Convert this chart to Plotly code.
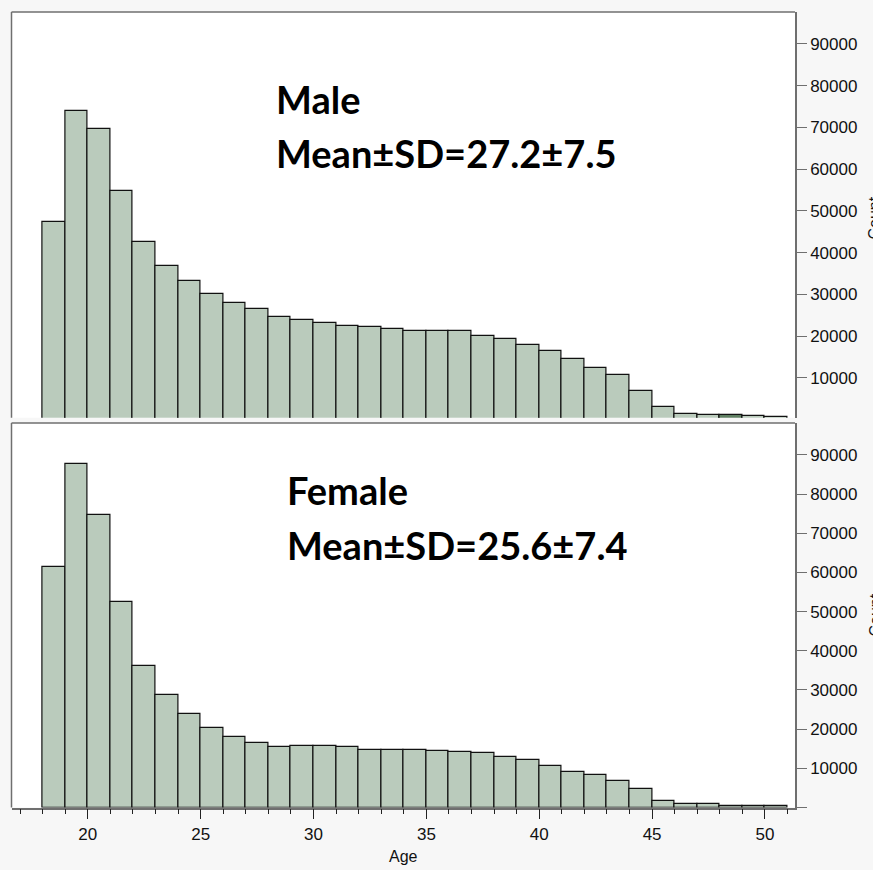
import plotly.graph_objects as go

# ---- data ----
age_bins = list(range(18, 51))  # left edges of 1-year bins (18..50)
male_counts = [47400, 73900, 69600, 54700, 42600, 36700, 33200, 30000, 28000, 26400,
               24500, 24000, 23100, 22500, 22100, 21700, 21300, 21300, 21300, 20100,
               19300, 17900, 16400, 14500, 12400, 10600, 6900, 3000, 1400, 1100,
               1100, 1000, 600]
female_counts = [61500, 87800, 74600, 52400, 36200, 28600, 23900, 20300, 17900, 16500,
                 15400, 15700, 15700, 15400, 14800, 14800, 14800, 14500, 14100, 13900,
                 12900, 12100, 10500, 9100, 8300, 6700, 4700, 1700, 870, 870,
                 500, 500, 500]
y_tickvals = [0, 10000, 20000, 30000, 40000, 50000, 60000, 70000, 80000, 90000]
y_ticktext = [""] + [str(v) for v in y_tickvals[1:]]
x_tickvals = [20, 25, 30, 35, 40, 45, 50]
male_label = ["Male", "Mean±SD=27.2±7.5"]
female_label = ["Female", "Mean±SD=25.6±7.4"]

W, H = 873, 870
BAR = "#bacbbc"
FRAME = "#6f6f6f"

centers = [a + 0.5 for a in age_bins]
male_colors = [BAR] * len(age_bins)
male_colors[age_bins.index(48)] = "#5f7f62"

fig = go.Figure()
fig.add_trace(go.Bar(x=centers, y=male_counts, width=1, xaxis="x", yaxis="y",
                     marker=dict(color=male_colors, line=dict(color="#111", width=1.2)),
                     showlegend=False, hoverinfo="x+y"))
fig.add_trace(go.Bar(x=centers, y=female_counts, width=1, xaxis="x2", yaxis="y2",
                     marker=dict(color=BAR, line=dict(color="#111", width=1.2)),
                     showlegend=False, hoverinfo="x+y"))

def px_x(p):
    return p / W

def px_y(p):
    return 1 - p / H

xdom = [px_x(11.5), px_x(795)]
xrange = [16.62, 51.33]
tick_font = dict(family="Liberation Sans, Arial, sans-serif", size=17, color="#111")

fig.update_layout(
    width=W, height=H,
    margin=dict(l=0, r=0, t=0, b=0),
    paper_bgcolor="#f7f7f7", plot_bgcolor="white",
    bargap=0,
    xaxis=dict(domain=xdom, range=xrange, showticklabels=False, ticks="",
               showgrid=False, zeroline=False, showline=False, anchor="y"),
    yaxis=dict(domain=[px_y(417.7), px_y(12)], range=[480, 97650], side="right",
               anchor="x", tickvals=y_tickvals, ticktext=y_ticktext,
               ticks="outside", ticklen=10, tickcolor=FRAME, tickwidth=1.2,
               showline=True, linecolor=FRAME, linewidth=1.5,
               showgrid=False, zeroline=False, tickfont=tick_font,
               ticklabelstandoff=0),
    xaxis2=dict(domain=xdom, range=xrange, anchor="y2", tickvals=x_tickvals,
                ticks="outside", ticklen=10, tickcolor="#222", tickwidth=1.2,
                minor=dict(dtick=1, tick0=0, ticks="outside", ticklen=5,
                           tickcolor="#222", tickwidth=1.2),
                showline=True, linecolor=FRAME, linewidth=1.5,
                showgrid=False, zeroline=False, tickfont=tick_font,
                title=dict(text="Age", font=dict(family="Liberation Sans, Arial, sans-serif",
                                                  size=16, color="#111"), standoff=8)),
    yaxis2=dict(domain=[px_y(807.5), px_y(423)], range=[0, 98160], side="right",
                anchor="x2", tickvals=y_tickvals, ticktext=y_ticktext,
                ticks="outside", ticklen=10, tickcolor=FRAME, tickwidth=1.2,
                showline=True, linecolor=FRAME, linewidth=1.5,
                showgrid=False, zeroline=False, tickfont=tick_font,
                ticklabelstandoff=0),
)

# frame lines (left and top) of each panel
for xr, yr in (("x domain", "y domain"), ("x2 domain", "y2 domain")):
    fig.add_shape(type="line", xref=xr, yref=yr, x0=0, x1=0, y0=0, y1=1,
                  line=dict(color=FRAME, width=1.5))
    fig.add_shape(type="line", xref=xr, yref=yr, x0=0, x1=1, y0=1, y1=1,
                  line=dict(color=FRAME, width=1.5))

label_font = dict(family="Lato, sans-serif", size=38, color="black")
for lines, x_left, y1, y2 in ((male_label, 274, 99, 153), (female_label, 285, 490, 545)):
    fig.add_annotation(text="<b>%s</b>" % lines[0], xref="paper", yref="paper",
                       x=px_x(x_left), y=px_y(y1), xanchor="left", yanchor="middle",
                       showarrow=False, font=label_font)
    fig.add_annotation(text="<b>%s</b>" % lines[1], xref="paper", yref="paper",
                       x=px_x(x_left), y=px_y(y2), xanchor="left", yanchor="middle",
                       showarrow=False, font=label_font)

count_font = dict(family="Liberation Sans, Arial, sans-serif", size=16, color="#111")
for yc in (218, 615):
    fig.add_annotation(text="Count", xref="paper", yref="paper", x=px_x(864), y=px_y(yc),
                       xanchor="left", yanchor="middle", textangle=-90,
                       showarrow=False, font=count_font)

fig.write_html("out.html", config={"displayModeBar": False},
               post_script="document.body.style.margin='0';document.body.style.overflow='hidden';")
